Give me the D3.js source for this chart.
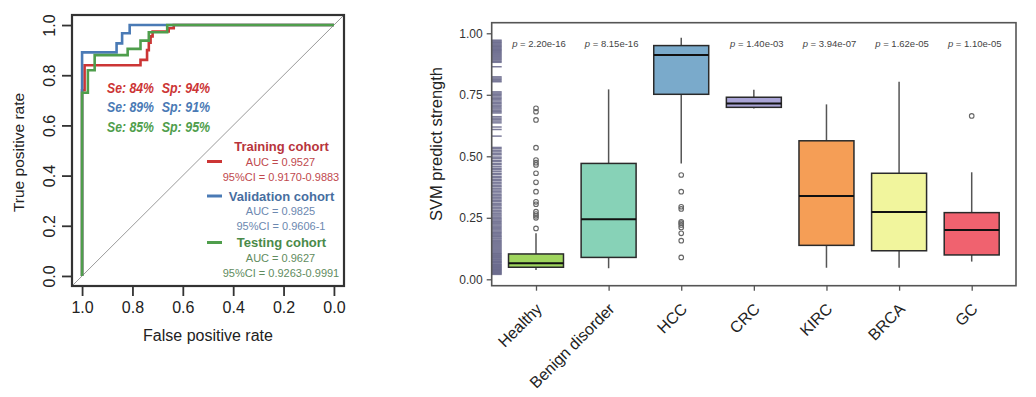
<!DOCTYPE html>
<html>
<head>
<meta charset="utf-8">
<script src="https://cdn.jsdelivr.net/npm/d3@7"></script>
<style>
  body { margin: 0; background: #fff; }
  svg { font-family: "Liberation Sans", Arial, sans-serif; }
</style>
</head>
<body>
<svg id="chart" width="1036" height="397"></svg>
<script>
// ---- ROC panel data: [specificity, sensitivity] step points ----
const rocTrain = [[1,0],[1,0.74],[0.99,0.74],[0.99,0.84],[0.768,0.84],[0.768,0.861],[0.742,0.861],[0.742,0.90],
  [0.735,0.90],[0.735,0.93],[0.728,0.93],[0.728,0.955],[0.72,0.955],[0.72,0.974],[0.656,0.974],[0.656,0.987],
  [0.636,0.987],[0.636,1],[0,1]];
const rocValid = [[1,0],[1,0.891],[0.863,0.891],[0.863,0.927],[0.841,0.927],[0.841,0.967],[0.811,0.967],[0.811,1],[0,1]];
const rocTest = [[1,0],[1,0.73],[0.977,0.73],[0.977,0.82],[0.95,0.82],[0.95,0.88],[0.819,0.88],[0.819,0.905],
  [0.768,0.905],[0.768,0.938],[0.735,0.938],[0.735,0.971],[0.662,0.971],[0.662,1],[0,1]];
const cohorts = ["Training cohort", "Validation cohort", "Testing cohort"];
const aucs = ["0.9527", "0.9825", "0.9627"];
const cis = ["0.9170-0.9883", "0.9606-1", "0.9263-0.9991"];
const seValues = [84, 89, 85];
const spValues = [94, 91, 95];
const rocTicks = [0, 0.2, 0.4, 0.6, 0.8, 1.0];

// ---- Box plot panel data ----
const categories = ["Healthy", "Benign disorder", "HCC", "CRC", "KIRC", "BRCA", "GC"];
const whiskLo = [0.038, 0.045, 0.471, 0.694, 0.047, 0.047, 0.072];
const q1 = [0.049, 0.089, 0.752, 0.699, 0.138, 0.116, 0.099];
const medians = [0.065, 0.244, 0.912, 0.715, 0.339, 0.274, 0.200];
const q3 = [0.103, 0.471, 0.950, 0.740, 0.563, 0.431, 0.271];
const whiskHi = [0.187, 0.772, 0.982, 0.770, 0.711, 0.803, 0.435];
const outliers = [
  [0.695, 0.681, 0.648, 0.535, 0.485, 0.474, 0.465, 0.431, 0.394, 0.356, 0.315, 0.305, 0.275, 0.265, 0.258, 0.250, 0.207],
  [],
  [0.424, 0.356, 0.295, 0.286, 0.234, 0.228, 0.221, 0.211, 0.187, 0.157, 0.089],
  [], [], [],
  [0.664]
];
const pValues = ["2.20e-16", "8.15e-16", null, "1.40e-03", "3.94e-07", "1.62e-05", "1.10e-05"];
const boxColors = ["#9fd55e", "#87d2b7", "#7aaacb", "#a9a4d6", "#f59e56", "#f1f59d", "#f0626f"];
const strengthTicks = [0, 0.25, 0.5, 0.75, 1.0];
const rugValues = [0.972, 0.968, 0.964, 0.961, 0.957, 0.953, 0.949, 0.946, 0.942, 0.938, 0.934, 0.931, 0.927, 0.923,
  0.919, 0.915, 0.911, 0.907, 0.903, 0.899, 0.895, 0.891, 0.886, 0.882,
  0.864, 0.823, 0.818, 0.813, 0.808, 0.803, 0.762, 0.757, 0.752, 0.747, 0.741, 0.736, 0.731, 0.725, 0.719, 0.714, 0.708,
  0.703, 0.697, 0.692, 0.686, 0.681, 0.676, 0.661, 0.655, 0.649, 0.643, 0.636, 0.619, 0.609, 0.582, 0.536, 0.531,
  0.524, 0.518, 0.511, 0.506, 0.497, 0.492, 0.484, 0.479, 0.471, 0.466, 0.458, 0.451, 0.446, 0.439, 0.431, 0.426,
  0.418, 0.413, 0.406, 0.401, 0.394, 0.388, 0.381, 0.376, 0.369, 0.363, 0.357, 0.351, 0.344, 0.339, 0.333, 0.327,
  0.321, 0.316, 0.309, 0.303, 0.298, 0.291, 0.286, 0.279, 0.274, 0.268, 0.262, 0.257, 0.251, 0.246, 0.241, 0.236,
  0.231, 0.226, 0.221, 0.216, 0.211, 0.206, 0.201, 0.196, 0.191, 0.187, 0.182, 0.177, 0.173, 0.168, 0.164, 0.159,
  0.155, 0.151, 0.147, 0.143, 0.139, 0.135, 0.131, 0.127, 0.123, 0.119, 0.115, 0.111, 0.107, 0.104, 0.100, 0.096,
  0.093, 0.089, 0.086, 0.082, 0.079, 0.075, 0.072, 0.069, 0.066, 0.062, 0.059, 0.056, 0.053, 0.050, 0.047, 0.044,
  0.041, 0.038, 0.035, 0.032, 0.029, 0.026, 0.023, 0.020];

const svg = d3.select("#chart");

// ================= Left: ROC curves =================
const roc = { left: 72, right: 344, top: 15, bottom: 286 };
const xSpec = d3.scaleLinear().domain([1.04, -0.04]).range([roc.left, roc.right]);
const ySens = d3.scaleLinear().domain([-0.04, 1.04]).range([roc.bottom, roc.top]);
const rocColors = ["#cc3535", "#4a7ab5", "#4f9e4c"];
const titleColors = ["#b8343c", "#476e9f", "#4a8a49"];
const smallColors = ["#c0494d", "#6c88b0", "#5f8c5e"];

const gL = svg.append("g");
gL.append("clipPath").attr("id", "rocClip")
  .append("rect").attr("x", roc.left).attr("y", roc.top)
  .attr("width", roc.right - roc.left).attr("height", roc.bottom - roc.top);

// diagonal reference
gL.append("line")
  .attr("clip-path", "url(#rocClip)")
  .attr("x1", xSpec(1.04)).attr("y1", ySens(-0.04))
  .attr("x2", xSpec(-0.04)).attr("y2", ySens(1.04))
  .attr("stroke", "#9a9a9a").attr("stroke-width", 1);

const line = d3.line().x(d => xSpec(d[0])).y(d => ySens(d[1]));
[rocTrain, rocValid, rocTest].forEach((pts, i) => {
  gL.append("path").attr("d", line(pts))
    .attr("fill", "none").attr("stroke", rocColors[i]).attr("stroke-width", 2.6);
});

gL.append("rect")
  .attr("x", roc.left).attr("y", roc.top)
  .attr("width", roc.right - roc.left).attr("height", roc.bottom - roc.top)
  .attr("fill", "none").attr("stroke", "#333").attr("stroke-width", 2.2);

// axes (R style, ticks outside)
const xAxisL = d3.axisBottom(xSpec).tickValues(rocTicks).tickFormat(d3.format(".1f")).tickSize(10).tickPadding(6);
gL.append("g").attr("transform", `translate(0,${roc.bottom})`).call(xAxisL)
  .call(g => g.select(".domain").remove())
  .call(g => g.selectAll("line").attr("stroke", "#333").attr("stroke-width", 1.8))
  .call(g => g.selectAll("text").attr("font-size", 16).attr("fill", "#222").attr("font-family", "Liberation Sans, Arial"));

const yAxisL = d3.axisLeft(ySens).tickValues(rocTicks).tickFormat(d3.format(".1f")).tickSize(10);
gL.append("g").attr("transform", `translate(${roc.left},0)`).call(yAxisL)
  .call(g => g.select(".domain").remove())
  .call(g => g.selectAll("line").attr("stroke", "#333").attr("stroke-width", 1.8))
  .call(g => g.selectAll("text")
    .attr("font-size", 16).attr("fill", "#222").attr("font-family", "Liberation Sans, Arial")
    .attr("text-anchor", "middle").attr("dy", null).attr("x", null)
    .attr("transform", "translate(-17,0) rotate(-90)"));

gL.append("text").attr("transform", `translate(24,${(roc.top + roc.bottom) / 2 + 2}) rotate(-90)`)
  .attr("text-anchor", "middle").attr("font-size", 15.5).attr("fill", "#222").text("True positive rate");
gL.append("text").attr("x", (xSpec(1) + xSpec(0)) / 2).attr("y", 341)
  .attr("text-anchor", "middle").attr("font-size", 16).attr("fill", "#222").text("False positive rate");

// Se / Sp annotations
seValues.forEach((se, i) => {
  const y = 87.5 + i * 19.7;
  gL.append("text").attr("x", 107).attr("y", y).attr("dominant-baseline", "central")
    .attr("font-size", 14).attr("font-weight", "bold").attr("font-style", "italic")
    .attr("textLength", 47).attr("lengthAdjust", "spacingAndGlyphs")
    .attr("fill", rocColors[i]).text(`Se: ${se}%`);
  gL.append("text").attr("x", 161.7).attr("y", y).attr("dominant-baseline", "central")
    .attr("font-size", 14).attr("font-weight", "bold").attr("font-style", "italic")
    .attr("textLength", 48.5).attr("lengthAdjust", "spacingAndGlyphs")
    .attr("fill", rocColors[i]).text(`Sp: ${spValues[i]}%`);
});

// legend
const legendTop = [146.7, 196, 242.5];
const swatchLine = [1, 0, 0];
cohorts.forEach((c, i) => {
  const y0 = legendTop[i];
  const ys = y0 + swatchLine[i] * 14.8;
  gL.append("line").attr("x1", 207).attr("x2", 222).attr("y1", ys).attr("y2", ys)
    .attr("stroke", rocColors[i]).attr("stroke-width", 3);
  gL.append("text").attr("x", 281.5).attr("y", y0).attr("dominant-baseline", "central")
    .attr("text-anchor", "middle").attr("font-size", 13).attr("font-weight", "bold")
    .attr("fill", titleColors[i]).text(c);
  gL.append("text").attr("x", 280.5).attr("y", y0 + 15).attr("dominant-baseline", "central")
    .attr("text-anchor", "middle").attr("font-size", 11).attr("fill", smallColors[i])
    .text(`AUC = ${aucs[i]}`);
  gL.append("text").attr("x", 281).attr("y", y0 + 30).attr("dominant-baseline", "central")
    .attr("text-anchor", "middle").attr("font-size", 11).attr("fill", smallColors[i])
    .text(`95%CI = ${cis[i]}`);
});

// ================= Right: box plot =================
const bp = { left: 491.7, right: 1016, top: 22.7, bottom: 285.7 };
const xCat = d3.scalePoint().domain(categories).range([bp.left, bp.right]).padding(0.61);
const yStr = d3.scaleLinear().domain([-0.026, 1.043]).range([bp.bottom, bp.top]);
const boxW = xCat.step() * 0.757;

const gR = svg.append("g");

// rug
gR.selectAll("line.rug").data(rugValues).join("line").attr("class", "rug")
  .attr("x1", bp.left).attr("x2", bp.left + 10)
  .attr("y1", d => yStr(d)).attr("y2", d => yStr(d))
  .attr("stroke", "#66668a").attr("stroke-opacity", 0.85).attr("stroke-width", 1.5);

categories.forEach((c, i) => {
  const cx = xCat(c);
  // whiskers
  gR.append("line").attr("x1", cx).attr("x2", cx).attr("y1", yStr(whiskLo[i])).attr("y2", yStr(q1[i]))
    .attr("stroke", "#555").attr("stroke-width", 1.5);
  gR.append("line").attr("x1", cx).attr("x2", cx).attr("y1", yStr(q3[i])).attr("y2", yStr(whiskHi[i]))
    .attr("stroke", "#555").attr("stroke-width", 1.5);
  // box
  gR.append("rect").attr("x", cx - boxW / 2).attr("width", boxW)
    .attr("y", yStr(q3[i])).attr("height", yStr(q1[i]) - yStr(q3[i]))
    .attr("fill", boxColors[i]).attr("stroke", "#2a2a2a").attr("stroke-width", 1.5);
  gR.append("line").attr("x1", cx - boxW / 2).attr("x2", cx + boxW / 2)
    .attr("y1", yStr(medians[i])).attr("y2", yStr(medians[i]))
    .attr("stroke", "#111").attr("stroke-width", 2);
  // outliers
  gR.selectAll(null).data(outliers[i]).join("circle")
    .attr("cx", cx).attr("cy", d => yStr(d)).attr("r", 2.3)
    .attr("fill", "none").attr("stroke", "#666").attr("stroke-width", 1.1);
  // p values
  if (pValues[i]) {
    const t = gR.append("text").attr("x", cx + 3).attr("y", 42.7).attr("dominant-baseline", "central")
      .attr("text-anchor", "middle").attr("font-size", 9.5).attr("fill", "#444");
    t.append("tspan").attr("font-style", "italic").text("p");
    t.append("tspan").text(` = ${pValues[i]}`);
  }
});

gR.append("rect")
  .attr("x", bp.left).attr("y", bp.top)
  .attr("width", bp.right - bp.left).attr("height", bp.bottom - bp.top)
  .attr("fill", "none").attr("stroke", "#555").attr("stroke-width", 1.6);

const yAxisR = d3.axisLeft(yStr).tickValues(strengthTicks).tickFormat(d3.format(".2f")).tickSize(5).tickPadding(4);
gR.append("g").attr("transform", `translate(${bp.left},0)`).call(yAxisR)
  .call(g => g.select(".domain").remove())
  .call(g => g.selectAll("line").attr("stroke", "#555").attr("stroke-width", 1.3))
  .call(g => g.selectAll("text").attr("font-size", 12).attr("fill", "#333").attr("font-family", "Liberation Sans, Arial"));

const xAxisR = d3.axisBottom(xCat).tickSize(5).tickFormat("");
gR.append("g").attr("transform", `translate(0,${bp.bottom})`).call(xAxisR)
  .call(g => g.select(".domain").remove())
  .call(g => g.selectAll("line").attr("stroke", "#555").attr("stroke-width", 1.3));

gR.selectAll("text.cat").data(categories).join("text").attr("class", "cat")
  .attr("transform", d => `translate(${xCat(d) + 7},${310}) rotate(-45)`)
  .attr("text-anchor", "end").attr("font-size", 16).attr("fill", "#222").text(d => d);

gR.append("text").attr("transform", `translate(442,144) rotate(-90)`)
  .attr("text-anchor", "middle").attr("font-size", 16.5).attr("fill", "#222").text("SVM predict strength");
</script>
</body>
</html>
